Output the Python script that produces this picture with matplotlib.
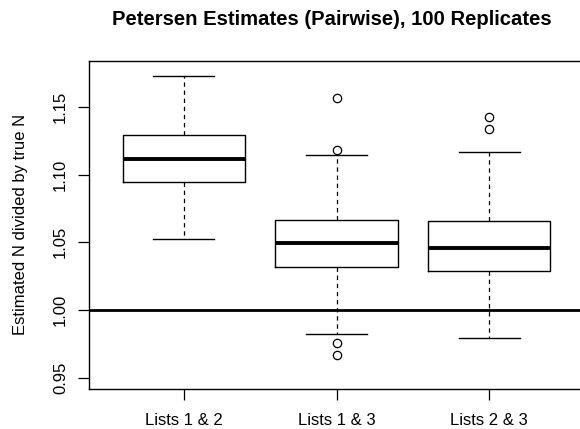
import matplotlib
matplotlib.use("Agg")
import matplotlib.pyplot as plt

plt.rcParams["font.family"] = ["Liberation Sans", "DejaVu Sans"]

# values (ratio of estimated to true N)
labels = ["Lists 1 & 2", "Lists 1 & 3", "Lists 2 & 3"]
whisk_lo = [1.0526, 0.9823, 0.9795]
q1 = [1.0944, 1.0315, 1.0287]
med = [1.1112, 1.0496, 1.0457]
q3 = [1.1291, 1.0662, 1.0654]
whisk_hi = [1.1727, 1.1144, 1.1166]
outliers = [[], [1.1562, 1.1181, 0.9758, 0.9670], [1.1422, 1.1333]]

stats = []
for i in range(len(labels)):
    stats.append({"label": labels[i], "whislo": whisk_lo[i], "q1": q1[i],
                  "med": med[i], "q3": q3[i], "whishi": whisk_hi[i],
                  "fliers": outliers[i]})

fig = plt.figure(figsize=(5.8, 4.29), dpi=100)
ax = fig.add_axes([89 / 580, 1 - 389 / 429, 495 / 580, 328.3 / 429])

ax.bxp(stats, positions=[1, 2, 3], widths=0.8,
       boxprops=dict(color="black", linewidth=1.0),
       medianprops=dict(color="black", linewidth=2.8, solid_capstyle="butt"),
       whiskerprops=dict(color="black", linewidth=0.9, linestyle=(0, (3.5, 3))),
       capprops=dict(color="black", linewidth=1.0),
       capwidths=0.4,
       flierprops=dict(marker="o", markerfacecolor="none", markeredgecolor="black",
                       markersize=6, markeredgewidth=0.9))

ax.axhline(1.0, color="black", linewidth=2.0)

ax.set_xlim(0.38, 3.62)
ax.set_ylim(0.9417, 1.184)
ax.set_yticks([0.95, 1.00, 1.05, 1.10, 1.15])
ax.set_yticklabels(["0.95", "1.00", "1.05", "1.10", "1.15"], rotation=90, va="center")
ax.tick_params(axis="both", length=8, width=0.9, labelsize=12, pad=7)
ax.tick_params(axis="x", pad=9)
for s in ax.spines.values():
    s.set_linewidth(1.0)

ax.set_ylabel("Estimated N divided by true N", fontsize=12, labelpad=18)
fig.suptitle("Petersen Estimates (Pairwise), 100 Replicates", fontsize=14.6,
             fontweight="bold", x=332 / 580, y=1 - 10 / 429)

fig.savefig("out.png", dpi=100)
